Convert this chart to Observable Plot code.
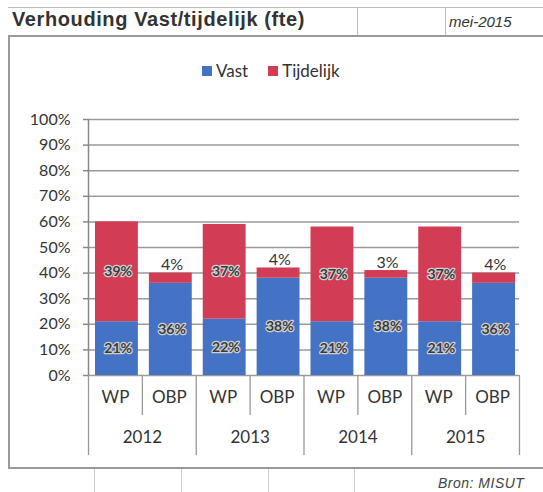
<!DOCTYPE html>
<html>
<head>
<meta charset="utf-8">
<script src="https://cdn.jsdelivr.net/npm/d3@7"></script>
<script src="https://cdn.jsdelivr.net/npm/@observablehq/plot@0.6"></script>
<style>
  html, body { margin: 0; padding: 0; background: #fff; }
  #wrap { position: relative; width: 543px; height: 492px; overflow: hidden; font-family: Lato, "Liberation Sans", sans-serif; color: #333; }
  .ln { position: absolute; background: #9a9a9a; }
  #title { position: absolute; left: 12px; top: 8px; font: bold 20px "Liberation Sans", Arial, sans-serif; letter-spacing: 0.6px; color: #333; white-space: nowrap; }
  #date { position: absolute; left: 449px; top: 13px; font: italic 15px "Liberation Sans", Arial, sans-serif; color: #333; }
  #source { position: absolute; left: 438px; top: 475px; font: italic 14px "Liberation Sans", Arial, sans-serif; color: #444; letter-spacing: 0.5px; }
  #legend { position: absolute; top: 60px; left: 202px; font: 17px Lato, sans-serif; color: #333; display: flex; align-items: center; white-space: nowrap; }
  #legend span.sw { display: inline-block; width: 10px; height: 10px; margin-right: 4px; }
  #legend span.item { display: inline-flex; align-items: center; margin-right: 20px; }
  #chart { position: absolute; left: 0; top: 0; }
</style>
</head>
<body>
<div id="wrap">
  <div class="ln" style="left:8px; top:7px; width:535px; height:1px; background:#bbb"></div>
  <div class="ln" style="left:8px; top:35px; width:535px; height:2px; background:#999"></div>
  <div class="ln" style="left:357px; top:7px; width:1px; height:28px; background:#bbb"></div>
  <div class="ln" style="left:445px; top:7px; width:1px; height:28px; background:#bbb"></div>
  <div class="ln" style="left:8px; top:35px; width:2px; height:433px"></div>
  <div class="ln" style="left:8px; top:467px; width:535px; height:2px"></div>
  <div class="ln" style="left:94px; top:469px; width:1px; height:23px; background:#ccc"></div>
  <div class="ln" style="left:181px; top:469px; width:1px; height:23px; background:#ccc"></div>
  <div class="ln" style="left:268px; top:469px; width:1px; height:23px; background:#ccc"></div>
  <div class="ln" style="left:354px; top:469px; width:1px; height:23px; background:#ccc"></div>
  <div id="chart"></div>
  <div id="title">Verhouding Vast/tijdelijk (fte)</div>
  <div id="date">mei-2015</div>
  <div id="legend"></div>
  <div id="source">Bron: MISUT</div>
</div>
<script>
// ---- data ----
const years = ["2012", "2013", "2014", "2015"];
const types = ["WP", "OBP"];
const seriesNames = ["Vast", "Tijdelijk"];
const vast      = [21, 36, 22, 38, 21, 38, 21, 36];
const tijdelijk = [39, 4, 37, 4, 37, 3, 37, 4];
const yTicks = [0, 10, 20, 30, 40, 50, 60, 70, 80, 90, 100];
const colors = ["#4472c4", "#d23c54"];

// ---- build table ----
const cats = [];
years.forEach(y => types.forEach(t => cats.push({year: y, type: t})));
const rows = [];
cats.forEach((c, i) => {
  rows.push({pos: i, year: c.year, type: c.type, series: "Vast", value: vast[i]});
  rows.push({pos: i, year: c.year, type: c.type, series: "Tijdelijk", value: tijdelijk[i]});
});
const isOutside = d => d.type === "OBP" && d.series === "Tijdelijk";

// legend
const legend = document.getElementById("legend");
seriesNames.forEach((s, i) => {
  const it = document.createElement("span");
  it.className = "item";
  it.innerHTML = `<span class="sw" style="background:${colors[i]}"></span>${s}`;
  legend.appendChild(it);
});

const plotH = 375 - 119;
const chart = Plot.plot({
  width: 543,
  height: 492,
  marginLeft: 88,
  marginRight: 24,
  marginTop: 119,
  marginBottom: 117,
  x: {domain: [0, cats.length], axis: null},
  y: {domain: [0, 100], axis: null},
  color: {domain: seriesNames, range: colors},
  style: {fontFamily: "Lato, sans-serif", background: "transparent", color: "#333", overflow: "visible"},
  marks: [
    Plot.ruleY(yTicks, {x1: 0, x2: cats.length, stroke: "#9a9a9a", strokeWidth: 1.5}),
    Plot.axisY({ticks: yTicks, tickFormat: d => d + "%", label: null, tickSize: 5, tickPadding: 13, fontSize: 16, stroke: "#888", strokeWidth: 1.5}),
    Plot.ruleX([0], {stroke: "#888", strokeWidth: 1.5}),
    Plot.rectY(rows, {x: "pos", interval: 1, y: "value", fill: "series", insetLeft: 7, insetRight: 4}),
    // separators below the axis
    Plot.ruleX(d3.range(1, cats.length, 2), {stroke: "#999", strokeWidth: 1.3, insetTop: plotH, insetBottom: -40}),
    Plot.ruleX(d3.range(0, cats.length + 1, 2), {stroke: "#999", strokeWidth: 1.3, insetTop: plotH, insetBottom: -80}),
    // value labels
    Plot.text(rows, Plot.stackY({
      x: d => d.pos + 0.55, y: "value",
      text: d => isOutside(d) ? null : d.value + "%",
      fontSize: 14, fontWeight: "bold", fill: "#3a3a3a", stroke: "#d0d0d0", strokeWidth: 2.5
    })),
    Plot.text(rows, Plot.stackY2({
      x: d => d.pos + 0.55, y: "value",
      text: d => isOutside(d) ? d.value + "%" : null,
      lineAnchor: "bottom", dy: -3, fontSize: 16, fill: "#333"
    })),
    // category labels
    Plot.text(cats, {x: (d, i) => i + 0.5, text: "type", frameAnchor: "bottom", dy: 27, fontSize: 17, fill: "#333"}),
    Plot.text(years, {x: (d, i) => 2 * i + 1, text: d => d, frameAnchor: "bottom", dy: 67, fontSize: 17, fill: "#333"})
  ]
});
document.getElementById("chart").appendChild(chart);
</script>
</body>
</html>
